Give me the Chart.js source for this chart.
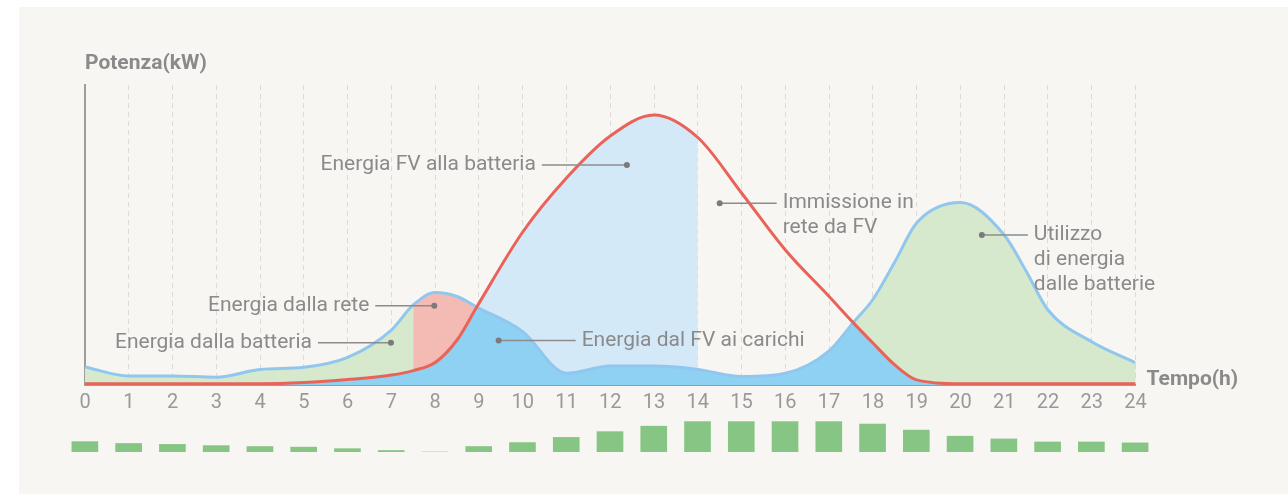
<!DOCTYPE html>
<html>
<head>
<meta charset="utf-8">
<script src="https://cdn.jsdelivr.net/npm/chart.js@4"></script>
<style>
  html, body { margin: 0; padding: 0; background: #fff; width: 1288px; height: 494px; overflow: hidden; }
  .card { position: absolute; left: 19px; top: 7px; width: 1269px; height: 487px; background: #f7f6f3; }
  #main { position: absolute; left: 0; top: 0; }
  #bars { position: absolute; left: 0; top: 400px; }
</style>
</head>
<body>
<div class="card"></div>
<canvas id="main" width="1288" height="420"></canvas>
<canvas id="bars" width="1288" height="60"></canvas>
<script>
// hours of the day (extra points at the colour cuts / crossings)
const hours   = [0, 1, 2, 3, 4, 5, 6, 7, 7.5, 8, 8.5, 8.95, 10, 11, 12, 13, 14, 15, 16, 17, 17.55, 18, 18.5, 19, 20, 21, 21.5, 22, 23, 24];
// PV production (red)
const pvPower = [0.4, 0.4, 0.4, 0.4, 0.4, 0.8, 1.8, 3.3, 4.8, 7.5, 15, 26, 51, 69, 83, 90, 82.5, 64, 45, 29.5, 20.8, 14, 6.7, 1.7, 0.4, 0.4, 0.4, 0.4, 0.4, 0.4];
// household load (blue)
const load    = [6, 3, 3, 2.6, 5.2, 5.9, 9.2, 18.3, 26.7, 30.8, 29.5, 26, 17.8, 3.9, 6.3, 6.3, 5.2, 2.8, 3.9, 11.4, 20.8, 28.5, 41, 54, 60.8, 50, 38, 25, 14.4, 7.4];

// battery level bars, one per hour
const barHours = ["0", "1", "2", "3", "4", "5", "6", "7", "8", "9", "10", "11", "12", "13", "14", "15", "16", "17", "18", "19", "20", "21", "22", "23", "24"];
const batteryLevel = [34, 28, 25, 21, 18, 16, 11, 5, 0, 18, 31, 48, 67, 85, 100, 100, 100, 100, 92, 72, 52, 43, 33, 33, 30];

const RED = "#ea6359";
const BLUE = "#91c6ee";
const GREEN_FILL = "#d6e9cc";
const PINK_FILL = "#f4bbb4";
const LIGHT_BLUE_FILL = "#d4e9f8";
const DARK_BLUE_FILL = "#8fd1f3";
const NONE = "rgba(0,0,0,0)";

// fill colour between load and pv, by hour range
const betweenZones = [
	{ from: 0, to: 8.95, color: GREEN_FILL },
	{ from: 8.95, to: 14, color: LIGHT_BLUE_FILL },
	{ from: 17.55, to: 24, color: GREEN_FILL },
];
// grid energy, painted over the green
const gridZones = [{ from: 7.5, to: 8.95, color: PINK_FILL }];

const notes = [
	{ text: ["Energia FV alla batteria"], hour: 12.38, value: 73.3, side: "left", len: 85 },
	{ text: ["Immissione in", "rete da FV"], hour: 14.5, value: 60.6, side: "right", len: 57 },
	{ text: ["Utilizzo", "di energia", "dalle batterie"], hour: 20.49, value: 50, side: "right", len: 46 },
	{ text: ["Energia dalla rete"], hour: 7.98, value: 26.4, side: "left", len: 59 },
	{ text: ["Energia dalla batteria"], hour: 6.99, value: 14.1, side: "left", len: 73 },
	{ text: ["Energia dal FV ai carichi"], hour: 9.45, value: 14.8, side: "right", len: 77 },
];

function zoneColor(zones) {
	return (ctx) => {
		const mid = (ctx.p0.parsed.x + ctx.p1.parsed.x) / 2;
		const z = zones.find((z) => mid >= z.from && mid <= z.to);
		return z ? z.color : NONE;
	};
}

function points(values) {
	return hours.map((h, i) => ({ x: h, y: values[i] }));
}

// a borderless copy of the load curve used only for fills
function loadFill(fill, color, zones) {
	const ds = {
		data: points(load),
		borderWidth: 0,
		borderColor: NONE,
		pointRadius: 0,
		cubicInterpolationMode: "monotone",
		fill: fill,
		backgroundColor: color,
	};
	if (zones) ds.segment = { backgroundColor: zoneColor(zones) };
	return ds;
}

Chart.defaults.font.family = "Roboto";

const notesPlugin = {
	id: "notes",
	afterDraw(chart) {
		const { ctx, scales: { x, y } } = chart;
		ctx.save();
		ctx.font = "21px Roboto";
		notes.forEach((n) => {
			const px = x.getPixelForValue(n.hour);
			const py = y.getPixelForValue(n.value);
			const dir = n.side === "left" ? -1 : 1;
			const end = px + dir * n.len;
			ctx.strokeStyle = "#8c8c8c";
			ctx.lineWidth = 1.5;
			ctx.beginPath();
			ctx.moveTo(px, py);
			ctx.lineTo(end, py);
			ctx.stroke();
			ctx.fillStyle = "#7a7a7a";
			ctx.beginPath();
			ctx.arc(px, py, 3, 0, Math.PI * 2);
			ctx.fill();
			ctx.fillStyle = "#8a8a8a";
			ctx.textAlign = n.side === "left" ? "right" : "left";
			ctx.textBaseline = "alphabetic";
			n.text.forEach((t, i) => ctx.fillText(t, end + dir * 6, py + 5 + i * 25));
		});
		// axis titles
		ctx.font = "bold 21px Roboto";
		ctx.textAlign = "left";
		ctx.fillStyle = "#8a8a8a";
		ctx.fillText("Potenza(kW)", x.left, y.top - 16);
		ctx.fillText("Tempo(h)", x.right + 11, y.bottom);
		ctx.restore();
	},
};

// datasets are drawn last-to-first, so the fills go at the end
new Chart(document.getElementById("main"), {
	type: "line",
	data: {
		datasets: [
			{
				data: points(pvPower),
				borderColor: RED,
				borderWidth: 3,
				pointRadius: 0,
				cubicInterpolationMode: "monotone",
				fill: false,
			},
			{
				data: points(load),
				borderColor: BLUE,
				borderWidth: 3,
				pointRadius: 0,
				cubicInterpolationMode: "monotone",
				fill: false,
			},
			loadFill(0, PINK_FILL, gridZones),
			loadFill(0, GREEN_FILL, betweenZones),
			loadFill("origin", DARK_BLUE_FILL, null),
		],
	},
	options: {
		responsive: false,
		animation: false,
		events: [],
		layout: { padding: { left: 85, right: 152.5, top: 85, bottom: 0 } },
		plugins: {
			legend: { display: false },
			tooltip: { enabled: false },
		},
		scales: {
			x: {
				type: "linear",
				min: 0,
				max: 24,
				afterFit: (s) => { s.height = 35; },
				ticks: {
					stepSize: 1,
					autoSkip: false,
					maxRotation: 0,
					padding: 6,
					color: "#999",
					font: { size: 20 },
				},
				grid: { color: "#dddbd8", lineWidth: 1, drawTicks: false },
				border: { display: true, color: "#9d9d9d", width: 2, dash: [5, 4] },
			},
			y: {
				min: 0,
				max: 100,
				afterFit: (s) => { s.width = 0; },
				ticks: { display: false },
				grid: { display: false },
				border: { display: true, color: "#9d9d9d", width: 2 },
			},
		},
	},
	plugins: [notesPlugin],
});

new Chart(document.getElementById("bars"), {
	type: "bar",
	data: {
		labels: barHours,
		datasets: [{ data: batteryLevel, backgroundColor: "#86c584", barThickness: 26 }],
	},
	options: {
		responsive: false,
		animation: false,
		events: [],
		layout: { padding: { left: 63, right: 131, top: 21, bottom: 8 } },
		plugins: {
			legend: { display: false },
			tooltip: { enabled: false },
		},
		scales: {
			x: { display: false },
			y: { display: false, min: 0, max: 102 },
		},
	},
});
</script>
</body>
</html>
